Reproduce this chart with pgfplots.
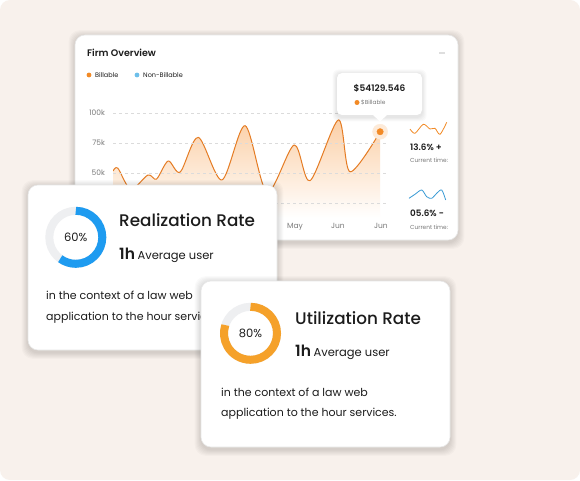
\documentclass[border=0pt]{standalone}
\usepackage{pgfplots}
\pgfplotsset{compat=1.18}
\usepackage{fontspec}
\setmainfont{Poppins}
\newfontfamily\med{Poppins Medium}
\newfontfamily\semi{Poppins SemiBold}
\definecolor{bg}{HTML}{F8F1EC}
\definecolor{orln}{HTML}{E57C24}
\definecolor{orfill}{HTML}{FBCFA6}
\definecolor{ordot}{HTML}{F28A26}
\definecolor{bluedot}{HTML}{6DBFEA}
\definecolor{ringblue}{HTML}{1E9BF0}
\definecolor{ringorange}{HTML}{F5A12A}
\definecolor{track}{HTML}{EEEFF1}
\definecolor{txt}{HTML}{1C1C1C}
\definecolor{lbl}{HTML}{7A7A7A}
\definecolor{spblue}{HTML}{3A9BD5}
\newcommand{\fs}[1]{\fontsize{#1}{#1}\selectfont}
\newcommand{\cardshadow}[4]{%
  \foreach \s in {1,...,7}{%
    \fill[black, opacity=0.018, rounded corners=11pt] ({#1-\s*0.9},{#2-\s*0.9-2.5}) rectangle ({#3+\s*0.9},{#4+\s*0.9-1.5});
  }}
\newcommand{\card}[4]{%
  \cardshadow{#1}{#2}{#3}{#4}
  \fill[white, rounded corners=10pt] (#1,#2) rectangle (#3,#4);
  \draw[black!9, line width=0.6pt, rounded corners=10pt] (#1,#2) rectangle (#3,#4);}
\begin{document}
\begin{tikzpicture}[x=1pt,y=1pt]
\fill[white] (0,0) rectangle (580,480);
\fill[bg, rounded corners=10pt] (0,0) rectangle (580,480);

% ---------- main card ----------
\card{75}{240}{458}{445}
\node[anchor=west, text=txt, inner sep=0] at (87,427) {\semi\fs{9.5}Firm Overview};
\foreach \d in {0,1,2}{\fill[black!55] ({440+\d*2},427) circle (0.55);}
\fill[ordot] (89,405) circle (2.4);
\node[anchor=west, text=txt, inner sep=0] at (95,405) {\fs{6.5}Billable};
\fill[bluedot] (137,405) circle (2.4);
\node[anchor=west, text=txt, inner sep=0] at (143,405) {\fs{6.5}Non-Billable};

\begin{axis}[
  at={(113pt,262pt)}, anchor=south west,
  scale only axis, width=275pt, height=105pt,
  xmin=-0.233, xmax=6.163, ymin=12500, ymax=100000,
  scaled y ticks=false,
  axis line style={draw=none}, tick style={draw=none},
  ytick={25000,50000,75000,100000}, yticklabels={25k,50k,75k,100k},
  xtick={4,5,6}, xticklabels={May,Jun,Jun},
  ymajorgrids, grid style={black!14, dash pattern=on 3pt off 3pt, line width=0.5pt},
  ticklabel style={font=\fs{7.5}, text=lbl},
  yticklabel style={xshift=-4.5pt},
  xticklabel style={yshift=-2pt},
  axis on top,
]
\addplot[draw=none, shade, top color=orfill, bottom color=white, smooth] coordinates {
(-0.23,51700) (-0.12,54000) (0.18,36500) (0.58,48300) (0.78,45000) (1.05,60000) (1.33,50800)
(1.75,79700) (2.30,44200) (2.84,89400) (3.35,34000) (3.98,73300) (4.35,43600)
(5.01,94200) (5.28,51000) (5.98,84400)} \closedcycle;
\addplot[orln, line width=1pt, smooth] coordinates {
(-0.23,51700) (-0.12,54000) (0.18,36500) (0.58,48300) (0.78,45000) (1.05,60000) (1.33,50800)
(1.75,79700) (2.30,44200) (2.84,89400) (3.35,34000) (3.98,73300) (4.35,43600)
(5.01,94200) (5.28,51000) (5.98,84400)};
\addplot[only marks, mark=*, mark size=7.5pt, color=ordot!18] coordinates {(5.98,84400)};
\addplot[only marks, mark=*, mark size=3.2pt, color=ordot] coordinates {(5.98,84400)};
\end{axis}

% tooltip
\begin{scope}
\foreach \s in {1,...,5}{\fill[black, opacity=0.02, rounded corners=6pt] ({337-\s*0.9},{365-\s*0.9-2}) rectangle ({422+\s*0.9},{407+\s*0.9-1});}
\fill[white, rounded corners=5pt] (337,365) rectangle (422,407);
\fill[white] (372,366) -- (380,358.5) -- (388,366) -- cycle;
\end{scope}
\node[text=txt, inner sep=0] at (379.5,392) {\semi\fs{9}\$54129.546};
\fill[ordot] (357,377.5) circle (2.5);
\node[anchor=west, text=lbl, inner sep=0] at (361,377.5) {\fs{5.8}\$Billable};

% sparklines
\begin{axis}[at={(410pt,345pt)}, anchor=south west, scale only axis, width=36.7pt, height=12.7pt,
  hide axis, xmin=0, xmax=36.7, ymin=0, ymax=12.7, clip=false]
\addplot[ordot, line width=0.8pt, smooth] coordinates {(0,6) (5,1.7) (13.3,10.7) (20,6) (25,6.7) (30,0.7) (36.7,12.7)};
\end{axis}
\begin{axis}[at={(409pt,278pt)}, anchor=south west, scale only axis, width=36.7pt, height=12pt,
  hide axis, xmin=0, xmax=36.7, ymin=0, ymax=12, clip=false]
\addplot[spblue, line width=0.8pt, smooth] coordinates {(0,3.7) (6,7.7) (12.7,12) (17.7,5.3) (22.7,3.7) (27.7,8.7) (32.7,12) (36.7,2)};
\end{axis}
\begin{scope}
\clip (400,240) rectangle (447,360);
\node[anchor=west, text=txt, inner sep=0] at (410,333) {\semi\fs{8.8}13.6\% +};
\node[anchor=west, text=lbl, inner sep=0] at (410,320) {\fs{5.8}Current time:};
\node[anchor=west, text=txt, inner sep=0] at (410,267) {\semi\fs{8.8}05.6\% -};
\node[anchor=west, text=lbl, inner sep=0] at (410,253) {\fs{5.8}Current time:};
\end{scope}

% ---------- Realization card ----------
\card{28}{130}{277}{295}
\draw[track, line width=8pt] (75.8,242.7) circle (26.5);
\draw[ringblue, line width=8pt] (75.8,269.2) arc[start angle=90, end angle={90-60*3.6}, radius=26.5];
\node[text=txt, inner sep=0] at (75.8,242.7) {\fs{11.5}60\%};
\node[anchor=west, text=txt, inner sep=0] at (119,260) {\med\fs{16.8}Realization Rate};
\node[anchor=base west, text=txt, inner sep=0] at (119,221) {{\semi\fs{15.5}1h}\hspace{2.5pt}{\fs{11.5}Average user}};
\node[anchor=west, text=txt, inner sep=0] at (46,185) {\fs{11}in the context of a law web};
\node[anchor=west, text=txt, inner sep=0] at (46,162.3) {\fs{11}application to the hour services.};

% ---------- Utilization card ----------
\card{201}{33}{450}{199}
\draw[track, line width=8pt] (250.5,146.7) circle (26.5);
\draw[ringorange, line width=8pt] (250.5,173.2) arc[start angle=90, end angle={90-80*3.6}, radius=26.5];
\node[text=txt, inner sep=0] at (250.5,146.7) {\fs{11.5}80\%};
\node[anchor=west, text=txt, inner sep=0] at (295,161.7) {\med\fs{16.8}Utilization Rate};
\node[anchor=base west, text=txt, inner sep=0] at (295,124) {{\semi\fs{15.5}1h}\hspace{2.5pt}{\fs{11.5}Average user}};
\node[anchor=west, text=txt, inner sep=0] at (221,88) {\fs{11}in the context of a law web};
\node[anchor=west, text=txt, inner sep=0] at (221,66) {\fs{11}application to the hour services.};
\end{tikzpicture}
\end{document}
